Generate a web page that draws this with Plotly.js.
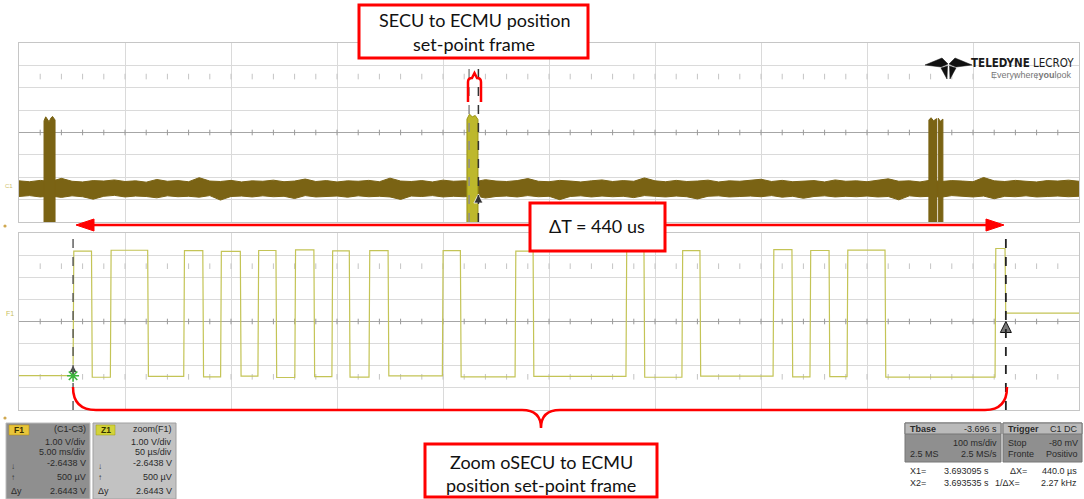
<!DOCTYPE html>
<html>
<head>
<meta charset="utf-8">
<script src="https://cdn.plot.ly/plotly-3.0.1.min.js"></script>
<style>html,body{margin:0;padding:0;background:#fff;overflow:hidden;}#chart{width:1084px;height:499px;}</style>
</head>
<body>
<div id="chart"></div>
<script>
// ================= DATA =================
// Upper panel: F1 = (C1-C3), 5 ms/div, 1 V/div  (time in ms, voltage in V)
const noiseT = [0,0.5,1,1.5,2,2.5,3,3.5,4,4.5,5,5.5,6,6.5,7,7.5,8,8.5,9,9.5,10,10.5,11,11.5,12,12.5,13,13.5,14,14.5,15,15.5,16,16.5,17,17.5,18,18.5,19,19.5,20,20.5,21,21.5,22,22.5,23,23.5,24,24.5,25,25.5,26,26.5,27,27.5,28,28.5,29,29.5,30,30.5,31,31.5,32,32.5,33,33.5,34,34.5,35,35.5,36,36.5,37,37.5,38,38.5,39,39.5,40,40.5,41,41.5,42,42.5,43,43.5,44,44.5,45,45.5,46,46.5,47,47.5,48,48.5,49,49.5,50];
const noiseHi = [-2.16,-2.20,-2.14,-2.19,-2.05,-2.18,-2.21,-2.15,-2.17,-2.12,
  -2.19,-2.16,-2.22,-2.10,-2.18,-2.15,-2.20,-2.02,-2.17,-2.19,
  -2.14,-2.21,-2.16,-2.18,-2.13,-2.20,-2.17,-2.08,-2.19,-2.15,
  -2.21,-2.16,-2.18,-2.14,-2.20,-2.04,-2.17,-2.19,-2.15,-2.21,
  -2.13,-2.18,-2.16,-2.20,-2.11,-2.17,-2.19,-2.15,-2.06,-2.18,
  -2.20,-2.14,-2.17,-2.21,-2.16,-2.12,-2.19,-2.15,-2.18,-2.03,
  -2.16,-2.20,-2.14,-2.19,-2.17,-2.13,-2.21,-2.16,-2.18,-2.15,
  -2.09,-2.19,-2.14,-2.20,-2.17,-2.15,-2.21,-2.12,-2.18,-2.16,
  -2.20,-2.14,-2.07,-2.18,-2.16,-2.21,-2.13,-2.19,-2.15,-2.17,
  -2.20,-2.01,-2.16,-2.19,-2.14,-2.18,-2.21,-2.15,-2.17,-2.13,-2.18];
const noiseLo = [-2.86,-2.82,-2.88,-2.84,-2.90,-2.83,-2.87,-2.98,-2.85,-2.81,
  -2.88,-2.84,-2.86,-2.92,-2.83,-2.87,-2.85,-2.89,-2.82,-3.02,
  -2.86,-2.84,-2.88,-2.83,-2.87,-2.85,-2.95,-2.82,-2.88,-2.86,
  -2.84,-2.89,-2.83,-2.87,-2.85,-2.88,-2.99,-2.84,-2.86,-2.82,
  -2.88,-2.85,-2.87,-2.83,-2.93,-2.86,-2.84,-2.88,-2.82,-2.87,
  -2.85,-3.00,-2.86,-2.83,-2.88,-2.84,-2.87,-2.85,-2.91,-2.82,
  -2.86,-2.88,-2.84,-2.87,-2.97,-2.85,-2.83,-2.88,-2.86,-2.84,
  -2.87,-2.82,-2.89,-2.85,-2.94,-2.86,-2.83,-2.88,-2.85,-2.87,
  -2.84,-2.88,-2.86,-3.01,-2.83,-2.87,-2.85,-2.89,-2.82,-2.86,
  -2.88,-2.84,-2.96,-2.85,-2.87,-2.83,-2.88,-2.86,-2.84,-2.87,-2.85];
// CAN-frame bursts in the upper panel
const burst1T = [1.18,1.18,1.26,1.34,1.42,1.50,1.58,1.70,1.70];
const burst1V = [-4.6,0.52,0.70,0.60,0.48,0.64,0.72,0.56,-4.6];
const burst2T = [21.13,21.13,21.25,21.38,21.52,21.65,21.65];
const burst2V = [-4.6,0.60,0.82,0.70,0.76,0.58,-4.6];
const burst3aT = [42.92,42.92,43.02,43.14,43.28,43.28];
const burst3aV = [-4.6,0.56,0.66,0.52,0.62,-4.6];
const burst3bT = [43.36,43.36,43.46,43.58,43.58];
const burst3bV = [-4.6,0.64,0.50,0.60,-4.6];
const cursorTop = [21.23, 21.67];          // ms
// Lower panel: Z1 = zoom(F1), 50 us/div (time in us)
const edgeT = [25.5,34.2,43.1,60.7,77.7,86.7,95.1,104.4,112.7,121.2,130.1,139.1,147.6,155.8,165.1,174.1,199.7,208.2,234.0,242.5,286.3,294.8,312.7,321.2,355.7,364.6,373.1,382.1,390.6,408.5,460.4,465.1];
const segLevel = [-2.45,3.18,-2.52,3.22,-2.48,3.20,-2.50,3.17,-2.47,3.21,-2.53,3.24,-2.49,3.19,-2.51,3.20,-2.46,3.20,-2.50,3.18,-2.48,3.22,-2.52,3.20,-2.47,3.25,-2.50,3.21,-2.49,3.23,-2.51,3.30,0.38];
const cursorZoom = [25.5, 465.5];          // us
const zoomEnd = 500;

// ================= HELPERS =================
const W = 1084, H = 499;
const PX = x => x / W, PY = y => 1 - y / H;
function pathOf(cmds){
  return cmds.map(c => c[0] + ' ' + c.slice(1).reduce((a,v,i)=>{
    if(i%2===0) a.push(PX(v).toFixed(5)); else a[a.length-1] += ',' + PY(v).toFixed(5); return a;},[]).join(' ')).join(' ');
}
function pathShape(cmds, color, width, fill){
  const s = {type:'path', xref:'paper', yref:'paper', path: pathOf(cmds), line:{color:color, width:width}, layer:'above'};
  if(fill){ s.fillcolor = fill; s.path += ' Z'; }
  return s;
}
function rect(x0,y0,x1,y1,fill,lc,lw){
  return {type:'rect', xref:'paper', yref:'paper', x0:PX(x0), x1:PX(x1), y0:PY(y1), y1:PY(y0),
          fillcolor:fill, line:{color:lc, width:lw}, layer:'above'};
}
function dot(x,y,r,col){
  return {type:'circle', xref:'paper', yref:'paper', x0:PX(x-r), x1:PX(x+r), y0:PY(y+r), y1:PY(y-r),
          fillcolor:col, line:{color:col, width:0}, layer:'above'};
}
function txt(text,x,y,anchor,font){
  return {text:text, x:PX(x), y:PY(y), xref:'paper', yref:'paper', showarrow:false,
          xanchor:anchor||'left', yanchor:'middle',
          font:Object.assign({family:'Liberation Sans, Arial, sans-serif', size:9, color:'#2b2b2b'}, font||{})};
}

// ================= TRACES =================
const OLIVE = '#7a6314';
const traces = [];
// graticule tick rows (decoration of the scope grid)
function tickRow(xmax, step, yv, xa, ya, col){
  const xs=[], ys=[];
  for(let v=step; v<xmax; v+=step){ xs.push(v); ys.push(yv); }
  traces.push({x:xs, y:ys, xaxis:xa, yaxis:ya, mode:'markers', hoverinfo:'skip',
    marker:{symbol:'line-ns', size:4, line:{width:1, color:col}}});
}
tickRow(50, 1, 0, 'x', 'y', '#9a9a9a');
tickRow(50, 1, 2.5, 'x', 'y', '#c4c4c4');
tickRow(500, 10, 0, 'x2', 'y2', '#9a9a9a');
tickRow(500, 10, 2.5, 'x2', 'y2', '#c4c4c4');
tickRow(500, 10, -2.5, 'x2', 'y2', '#c4c4c4');

traces.push({x:noiseT, y:noiseLo, xaxis:'x', yaxis:'y', mode:'lines', line:{color:OLIVE, width:1}, hoverinfo:'skip'});
traces.push({x:noiseT, y:noiseHi, xaxis:'x', yaxis:'y', mode:'lines', line:{color:OLIVE, width:1}, fill:'tonexty', fillcolor:OLIVE, hoverinfo:'skip'});
[[burst1T,burst1V],[burst3aT,burst3aV],[burst3bT,burst3bV]].forEach(b=>{
  traces.push({x:b[0], y:b[1], xaxis:'x', yaxis:'y', mode:'lines', fill:'toself', fillcolor:OLIVE, line:{color:OLIVE, width:1}, hoverinfo:'skip'});
});
traces.push({x:burst2T, y:burst2V, xaxis:'x', yaxis:'y', mode:'lines', fill:'toself', fillcolor:'#bdb82c', line:{color:'#9a9412', width:1}, hoverinfo:'skip'});

// zoomed frame waveform built from read edge times / levels
const zx=[0], zy=[segLevel[0]];
edgeT.forEach((t,i)=>{ zx.push(t); zy.push(segLevel[i]); zx.push(t+0.35); zy.push(segLevel[i+1]); });
zx.push(zoomEnd); zy.push(segLevel[segLevel.length-1]);
traces.push({x:zx, y:zy, xaxis:'x2', yaxis:'y2', mode:'lines', line:{color:'#c4c456', width:1.2}, hoverinfo:'skip'});

// cursor markers
traces.push({x:[cursorTop[1]], y:[-2.75], xaxis:'x', yaxis:'y', mode:'markers', hoverinfo:'skip',
  marker:{symbol:'arrow-up', size:9, color:'#333', line:{color:'#fff', width:0.8}}});
traces.push({x:[cursorZoom[0]], y:[-1.95], xaxis:'x2', yaxis:'y2', mode:'markers', hoverinfo:'skip',
  marker:{symbol:'arrow-up', size:8, color:'#444', line:{color:'#fff', width:0.8}}});
traces.push({x:[cursorZoom[0]], y:[-2.45], xaxis:'x2', yaxis:'y2', mode:'markers', hoverinfo:'skip',
  marker:{symbol:'asterisk-open', size:10, color:'#3cb43c', line:{color:'#3cb43c', width:1.6}}});
traces.push({x:[cursorZoom[1]], y:[0.0], xaxis:'x2', yaxis:'y2', mode:'markers', hoverinfo:'skip',
  marker:{symbol:'arrow-up', size:11, color:'#777', line:{color:'#111', width:1}}});

// ================= LAYOUT =================
const GRID = '#dadada';
const axX = (range, dtick, anchor) => ({domain:[PX(19), PX(1079)], range:range, dtick:dtick, tick0:0, anchor:anchor,
  showgrid:true, gridcolor:GRID, gridwidth:1, zeroline:false, showticklabels:false, ticks:'',
  showline:true, linecolor:'#c6c6c6', linewidth:1, mirror:true, fixedrange:true});
const axY = (dom, anchor) => ({domain:dom, range:[-4,4], dtick:1, tick0:0, anchor:anchor,
  showgrid:true, gridcolor:GRID, gridwidth:1, zeroline:true, zerolinecolor:'#a6a6a6', zerolinewidth:1,
  showticklabels:false, ticks:'', showline:true, linecolor:'#c6c6c6', linewidth:1, mirror:true, fixedrange:true});

const RED = '#ff0000';
const shapes = [];
// cursors
shapes.push({type:'line', xref:'x', yref:'y', x0:cursorTop[0], x1:cursorTop[0], y0:-4, y1:3.1, line:{color:'#8c8c8c', width:1.5, dash:'dash'}, layer:'above'});
shapes.push({type:'line', xref:'x', yref:'y', x0:cursorTop[1], x1:cursorTop[1], y0:-4, y1:3.1, line:{color:'#333', width:1.5, dash:'dash'}, layer:'above'});
shapes.push({type:'line', xref:'x2', yref:'y2', x0:cursorZoom[0], x1:cursorZoom[0], y0:-4, y1:4, line:{color:'#555', width:1.4, dash:'dash'}, layer:'above'});
shapes.push({type:'line', xref:'x2', yref:'y2', x0:cursorZoom[1], x1:cursorZoom[1], y0:-4, y1:4, line:{color:'#222', width:1.8, dash:'dash'}, layer:'above'});
// small brace above highlighted frame
shapes.push(pathShape([['M',468,102],['L',468,82],['Q',468,78,472,78],['L',474.5,73],['L',477,78],['Q',481,78,481,82],['L',481,102]], RED, 2.5));
// delta-T arrow
shapes.push({type:'line', xref:'paper', yref:'paper', x0:PX(90), x1:PX(990), y0:PY(225), y1:PY(225), line:{color:RED, width:2.5}, layer:'above'});
shapes.push(pathShape([['M',76,225],['L',94,219],['L',94,231]], RED, 1, RED));
shapes.push(pathShape([['M',1004,225],['L',986,219],['L',986,231]], RED, 1, RED));
// long brace below the zoom panel
shapes.push(pathShape([['M',73,387],['Q',73,410,96,410],['L',522,410],['Q',541,410,541,428],['Q',541,410,560,410],['L',985,410],['Q',1007,410,1007,387]], RED, 2.5));
// red callout boxes
shapes.push(rect(359,5,588,58,'#fff',RED,3));
shapes.push(rect(530,203,665,251,'#fff',RED,3));
shapes.push(rect(425,444,657,497,'#fff',RED,3));
// Teledyne logo mark
shapes.push(pathShape([['M',925,65],['L',942,58],['L',948,64],['L',941,67]], '#111', 0.5, '#111'));
shapes.push(pathShape([['M',972,65],['L',955,58],['L',949,64],['L',956,67]], '#111', 0.5, '#111'));
shapes.push(pathShape([['M',941,68],['L',947.5,66],['L',947,79]], '#111', 0.5, '#111'));
shapes.push(pathShape([['M',956,68],['L',949.5,66],['L',950,79]], '#111', 0.5, '#111'));
// side markers
shapes.push(dot(5,226,1.6,'#d0a850'));
shapes.push(dot(5,418,1.6,'#d0a850'));
// info panels
shapes.push(rect(6,423,90,499,'#8f8f8f','#bcbcbc',1));
shapes.push(rect(9,425,29,435,'#e8c53a','#b08a10',0.5));
shapes.push(rect(93,423,176,499,'#c2c2c2','#a0a0a0',1));
shapes.push(rect(96,425,115,435,'#d3d33a','#9a9a10',0.5));
shapes.push(rect(905,423,1001,462,'#8f8f8f','#777',1));
shapes.push(rect(905,423,1001,434,'#bababa','#777',1));
shapes.push(rect(1003,423,1082,462,'#8f8f8f','#777',1));
shapes.push(rect(1003,423,1082,434,'#bababa','#777',1));

const CAL = {family:'Lato, "Open Sans", sans-serif', size:18, color:'#111'};
const ann = [];
ann.push(txt('SECU to ECMU position', 474, 20.5, 'center', CAL));
ann.push(txt('set-point frame', 474, 44, 'center', CAL));
ann.push(txt('ΔT = 440 us', 597, 226, 'center', CAL));
ann.push(txt('Zoom oSECU to ECMU', 541, 462, 'center', CAL));
ann.push(txt('position set-point frame', 541, 485, 'center', CAL));
// logo text
ann.push(txt('<b>TELEDYNE</b> LECROY', 1076, 63, 'right', {family:'"Liberation Sans Narrow", "DejaVu Sans Condensed", "Liberation Sans", sans-serif', size:11.5, color:'#1a1a1a'}));
ann.push(txt('Everywhere<b>you</b>look', 1074, 75, 'right', {family:'"Liberation Sans", sans-serif', size:9, color:'#777'}));
// panel side labels
ann.push(txt('C1', 9, 186, 'center', {size:6, color:'#d2bf6a'}));
ann.push(txt('F1', 10, 313, 'center', {size:7, color:'#c8c060'}));
// F1 panel
const D = {color:'#2a2a2a'};
ann.push(txt('<b>F1</b>', 19, 430, 'center', {size:8.5, color:'#3a3000'}));
ann.push(txt('(C1-C3)', 88, 429, 'right', D));
ann.push(txt('1.00 V/div', 88, 442, 'right', D));
ann.push(txt('5.00 ms/div', 88, 452, 'right', D));
ann.push(txt('-2.6438 V', 88, 463, 'right', D));
ann.push(txt('500 µV', 88, 477, 'right', D));
ann.push(txt('2.6443 V', 88, 491, 'right', D));
ann.push(txt('↓', 9, 466, 'left', {size:8, color:'#333'}));
ann.push(txt('↑', 9, 477, 'left', {size:8, color:'#333'}));
ann.push(txt('Δy', 9, 491, 'left', D));
// Z1 panel
ann.push(txt('<b>Z1</b>', 105.5, 430, 'center', {size:8.5, color:'#333300'}));
ann.push(txt('zoom(F1)', 174, 429, 'right', D));
ann.push(txt('1.00 V/div', 174, 442, 'right', D));
ann.push(txt('50 µs/div', 174, 452, 'right', D));
ann.push(txt('-2.6438 V', 174, 463, 'right', D));
ann.push(txt('500 µV', 174, 477, 'right', D));
ann.push(txt('2.6443 V', 174, 491, 'right', D));
ann.push(txt('↓', 96, 466, 'left', {size:8, color:'#333'}));
ann.push(txt('↑', 96, 477, 'left', {size:8, color:'#333'}));
ann.push(txt('Δy', 96, 491, 'left', D));
// Timebase / trigger
ann.push(txt('<b>Tbase</b>', 908, 428.5, 'left', D));
ann.push(txt('-3.696 s', 999, 428.5, 'right', D));
ann.push(txt('100 ms/div', 999, 443, 'right', D));
ann.push(txt('2.5 MS', 908, 453.5, 'left', D));
ann.push(txt('2.5 MS/s', 999, 453.5, 'right', D));
ann.push(txt('<b>Trigger</b>', 1006, 428.5, 'left', D));
ann.push(txt('C1 DC', 1080, 428.5, 'right', D));
ann.push(txt('Stop', 1006, 443, 'left', D));
ann.push(txt('-80 mV', 1080, 443, 'right', D));
ann.push(txt('Fronte', 1006, 453.5, 'left', D));
ann.push(txt('Positivo', 1080, 453.5, 'right', D));
ann.push(txt('X1=', 908, 471, 'left', D));
ann.push(txt('3.693095 s', 991, 471, 'right', D));
ann.push(txt('ΔX=', 1008, 471, 'left', D));
ann.push(txt('440.0 µs', 1079, 471, 'right', D));
ann.push(txt('X2=', 908, 483, 'left', D));
ann.push(txt('3.693535 s', 991, 483, 'right', D));
ann.push(txt('1/ΔX=', 993, 483, 'left', D));
ann.push(txt('2.27 kHz', 1079, 483, 'right', D));

const layout = {
  width:W, height:H, margin:{l:0, r:0, t:0, b:0}, paper_bgcolor:'#fff', plot_bgcolor:'#fff',
  showlegend:false, hovermode:false,
  xaxis: axX([0,50], 5, 'y'),
  yaxis: axY([PY(222), PY(43)], 'x'),
  xaxis2: axX([0,500], 50, 'y2'),
  yaxis2: axY([PY(410), PY(233)], 'x2'),
  shapes: shapes, annotations: ann
};
Plotly.newPlot('chart', traces, layout, {staticPlot:true, displayModeBar:false});
</script>
</body>
</html>
